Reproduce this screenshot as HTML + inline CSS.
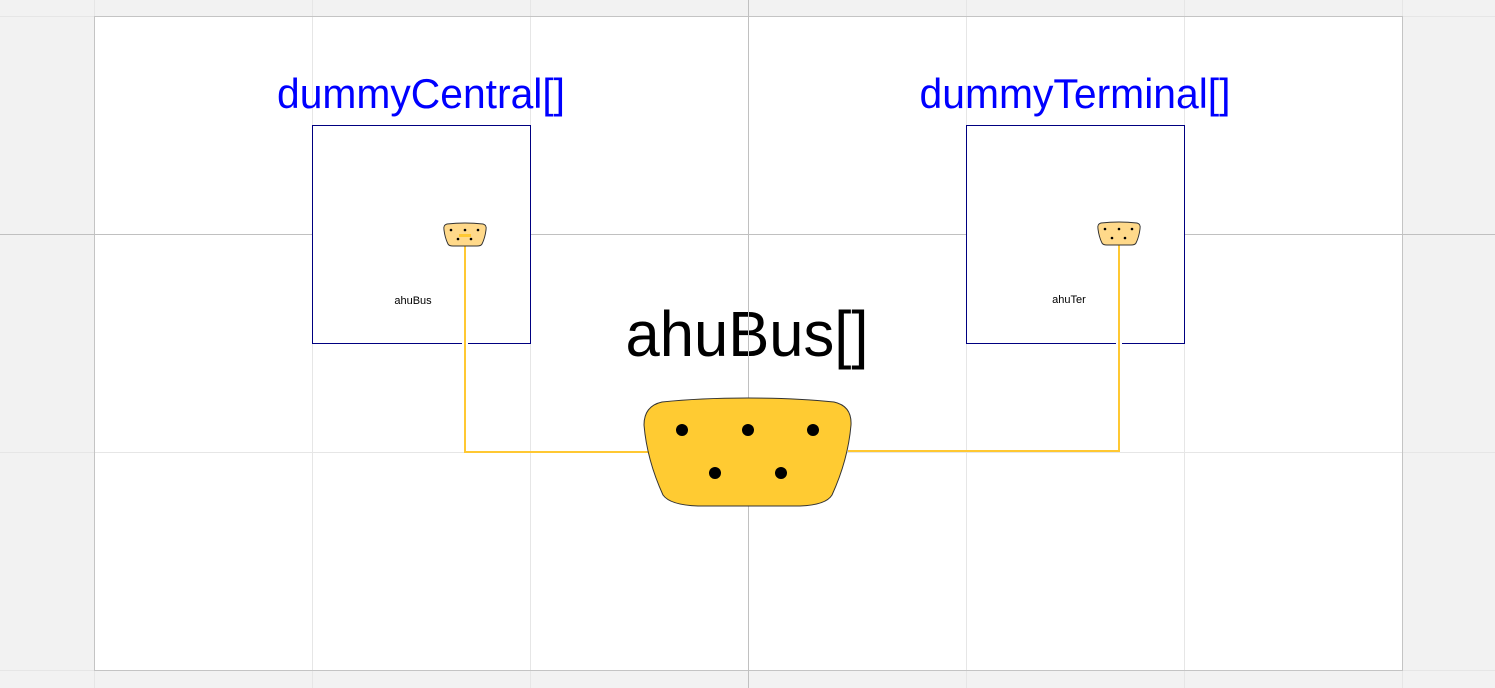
<!DOCTYPE html>
<html><head><meta charset="utf-8"><style>html,body{margin:0;padding:0;background:#f2f2f2}svg{display:block}</style></head>
<body>
<svg width="1495" height="688" viewBox="0 0 1495 688" xmlns="http://www.w3.org/2000/svg" font-family="Liberation Sans, sans-serif">
<rect x="0" y="0" width="1495" height="688" fill="#f2f2f2"/>
<rect x="94.5" y="16.5" width="1308" height="654" fill="#fff"/>
<g stroke="#e6e6e6" stroke-width="1">
<line x1="94.5" y1="0" x2="94.5" y2="688"/><line x1="312.5" y1="0" x2="312.5" y2="688"/><line x1="530.5" y1="0" x2="530.5" y2="688"/>
<line x1="966.5" y1="0" x2="966.5" y2="688"/><line x1="1184.5" y1="0" x2="1184.5" y2="688"/><line x1="1402.5" y1="0" x2="1402.5" y2="688"/>
<line x1="0" y1="16.5" x2="1495" y2="16.5"/><line x1="0" y1="452.5" x2="1495" y2="452.5"/><line x1="0" y1="670.5" x2="1495" y2="670.5"/>
</g>
<rect x="94.5" y="16.5" width="1308" height="654" fill="none" stroke="#c4c4c4"/>
<text x="421" y="108" font-size="42" fill="#0000ff" text-anchor="middle" textLength="288" lengthAdjust="spacingAndGlyphs">dummyCentral[]</text>
<text x="1075" y="108" font-size="42" fill="#0000ff" text-anchor="middle" textLength="311" lengthAdjust="spacingAndGlyphs">dummyTerminal[]</text>
<text x="747" y="356" font-size="64" fill="#000" text-anchor="middle" textLength="243" lengthAdjust="spacingAndGlyphs">ahuBus[]</text>
<g stroke="#c0c0c0" stroke-width="1">
<line x1="748.5" y1="0" x2="748.5" y2="688"/>
<line x1="0" y1="234.5" x2="312" y2="234.5"/>
<line x1="531" y1="234.5" x2="966" y2="234.5"/>
<line x1="1185" y1="234.5" x2="1495" y2="234.5"/>
</g>
<rect x="312.5" y="125.5" width="218" height="218" fill="none" stroke="#000080"/>
<rect x="966.5" y="125.5" width="218" height="218" fill="none" stroke="#000080"/>
<text x="413" y="304" font-size="11" text-anchor="middle">ahuBus</text>
<text x="1069" y="303" font-size="11" text-anchor="middle">ahuTer</text>
<g fill="none" stroke="#ffc832" stroke-width="2">
<polyline points="465,246 465,452 648,452"/>
<polyline points="848,451 1119,451 1119,245"/>
</g>
<rect x="462" y="342" width="6" height="3" fill="#fff"/>
<rect x="1116" y="342" width="6" height="3" fill="#fff"/>
<line x1="465" y1="340" x2="465" y2="346" stroke="#ffc832" stroke-width="2"/>
<line x1="1119" y1="340" x2="1119" y2="346" stroke="#ffc832" stroke-width="2"/>
<path d="M662,402 Q700,398 748,398 Q796,398 834,402 Q852,406 851,425 Q848,460 832,495 Q826,505 800,506 L698,506 Q670,505 663,495 Q647,460 644,425 Q644,406 662,402 Z" fill="#ffcb32" stroke="#333" stroke-width="1"/>
<g fill="#000"><circle cx="682" cy="430" r="6"/><circle cx="748" cy="430" r="6"/><circle cx="813" cy="430" r="6"/><circle cx="715" cy="473" r="6"/><circle cx="781" cy="473" r="6"/></g>
<g id="s1">
<path d="M447,224 Q465,222 483,224 Q487,225 486,230 Q485,238 482,244 Q481,246 477,246 L453,246 Q449,246 448,244 Q445,238 444,230 Q443,225 447,224 Z" fill="#ffd98a" stroke="#333" stroke-width="1"/>
<g fill="#000"><circle cx="451" cy="230" r="1.3"/><circle cx="465" cy="230" r="1.3"/><circle cx="478" cy="230" r="1.3"/><circle cx="458" cy="239" r="1.3"/><circle cx="471" cy="239" r="1.3"/></g>
</g>
<rect x="459" y="234" width="12" height="3" fill="#ffc832"/>
<use href="#s1" transform="translate(654,-1)"/>
</svg>
</body></html>
